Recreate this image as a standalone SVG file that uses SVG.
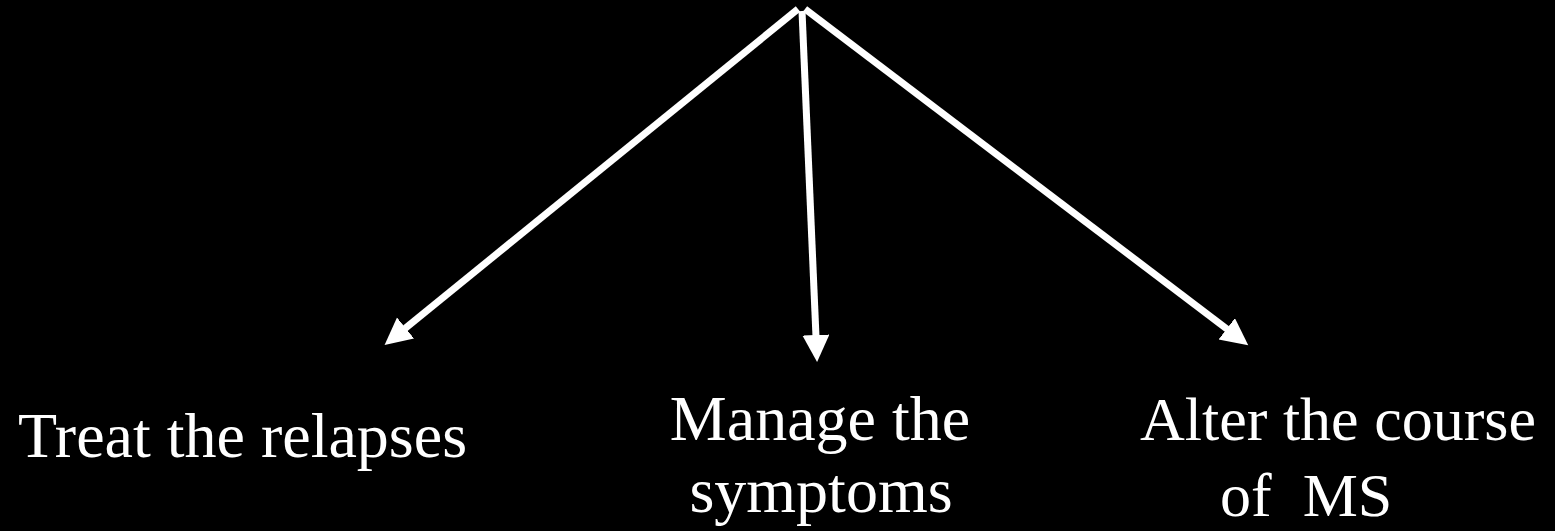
<svg xmlns="http://www.w3.org/2000/svg" width="1555" height="531" viewBox="0 0 1555 531">
<style>
.lbl{font-family:"Liberation Serif","Times New Roman",serif;font-size:64px;fill:#fff}
.sm{font-size:62px}
.mid{text-anchor:middle}
.conn{stroke:#fff;stroke-width:7;fill:none}
</style>
<defs>
<marker id="ah" markerUnits="userSpaceOnUse" markerWidth="28" markerHeight="28" refX="11" refY="13.5" orient="auto">
<path d="M0,0 L27,13.5 L0,27 Z" fill="#fff"/>
</marker>
</defs>
<rect width="1555" height="531" fill="#000"/>
<g id="connectors">
<line class="conn" x1="798" y1="9" x2="397" y2="335" marker-end="url(#ah)"/>
<line class="conn" x1="802" y1="11" x2="816.4" y2="346" marker-end="url(#ah)"/>
<line class="conn" x1="805" y1="9" x2="1235.5" y2="335.5" marker-end="url(#ah)"/>
</g>
<g id="node-relapses"><text class="lbl" x="18" y="457">Treat the relapses</text></g>
<g id="node-symptoms"><text class="lbl mid" x="820" y="440">Manage the</text><text class="lbl mid" x="821" y="512">symptoms</text></g>
<g id="node-course"><text class="lbl sm" x="1140" y="440">Alter the course</text><text class="lbl sm" x="1220" y="516" xml:space="preserve">of  MS</text></g>
</svg>
